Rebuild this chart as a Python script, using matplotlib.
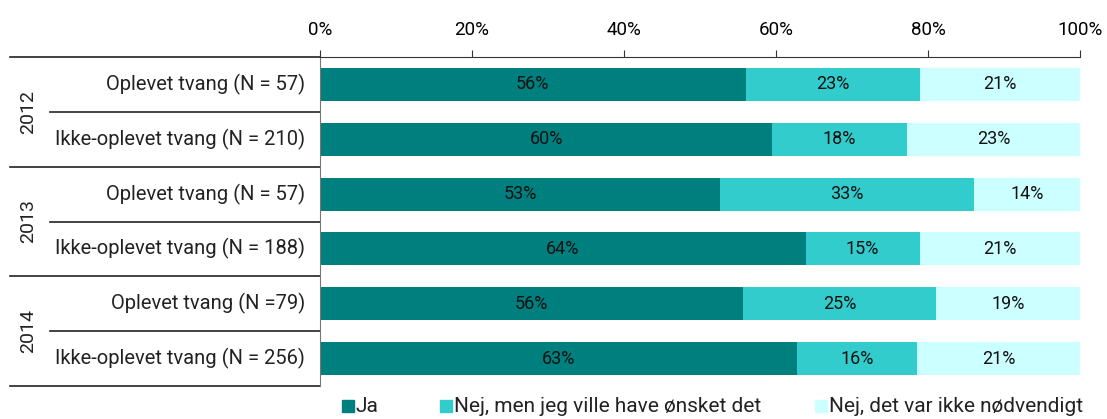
import matplotlib
matplotlib.use("Agg")
import matplotlib.pyplot as plt
from matplotlib.patches import Rectangle
from matplotlib.lines import Line2D

plt.rcParams['font.family'] = ['Roboto', 'DejaVu Sans']

# data (top to bottom)
years = ['2012', '2013', '2014']
rows = ['Oplevet tvang (N = 57)', 'Ikke-oplevet tvang (N = 210)',
        'Oplevet tvang (N = 57)', 'Ikke-oplevet tvang (N = 188)',
        'Oplevet tvang (N =79)', 'Ikke-oplevet tvang (N = 256)']
series = ['Ja', 'Nej, men jeg ville have ønsket det', 'Nej, det var ikke nødvendigt']
ja = [56.0, 59.5, 52.6, 63.9, 55.7, 62.8]
nej_oensket = [23.0, 17.7, 33.4, 15.0, 25.3, 15.8]
nej_ikke = [21.0, 22.8, 14.0, 21.1, 19.0, 21.4]
colors = ['#007F7F', '#33CCCC', '#CCFFFF']

W, H = 1107, 419
fig = plt.figure(figsize=(W / 100, H / 100), dpi=100)
ax = fig.add_axes([320 / W, 1 - 386 / H, 760 / W, 329 / H])

n = len(rows)
ypos = list(range(n))
left = [0.0] * n
for vals, col in zip([ja, nej_oensket, nej_ikke], colors):
    ax.barh(ypos, vals, left=left, height=0.6, color=col, edgecolor='none')
    for y, l, v in zip(ypos, left, vals):
        ax.text(l + v / 2, y, f'{v:.0f}%', ha='center', va='center',
                fontsize=13, color='#111111')
    left = [a + b for a, b in zip(left, vals)]

ax.set_xlim(0, 100)
ax.set_ylim(n - 0.5, -0.5)
ax.xaxis.tick_top()
ax.set_xticks(range(0, 101, 20))
ax.set_xticklabels([f'{t}%' for t in range(0, 101, 20)], fontsize=13.5)
ax.tick_params(axis='x', length=5, color='#333333', pad=8)
ax.set_yticks([])
for s in ['right', 'bottom']:
    ax.spines[s].set_visible(False)
ax.spines['top'].set_color('#333333')
ax.spines['left'].set_color('#777777')

# row labels and separators on the left
for y, lab in zip(ypos, rows):
    ax.text(-0.02, y, lab, transform=ax.get_yaxis_transform(),
            ha='right', va='center', fontsize=14.5, color='#222222')

x_outer = (10 - 320) / 760
x_inner = (50 - 320) / 760
for k in range(n + 1):
    xs = x_outer if k % 2 == 0 else x_inner
    ax.add_line(Line2D([xs, 0], [k - 0.5, k - 0.5], transform=ax.get_yaxis_transform(),
                       color='#222222', lw=1.2, clip_on=False))
for g, yr in enumerate(years):
    ax.text((28 - 320) / 760, 2 * g + 0.5, yr, transform=ax.get_yaxis_transform(),
            rotation=90, ha='center', va='center', fontsize=14, color='#222222')

# legend along the bottom edge
leg_x = [342, 440, 815]
for x, lab, col in zip(leg_x, series, colors):
    fig.patches.append(Rectangle((x / W, 1 - 412 / H), 12 / W, 12 / H,
                                 transform=fig.transFigure, color=col))
    fig.text((x + 14) / W, 1 - 406 / H, lab, ha='left', va='center',
             fontsize=15, color='#222222')

fig.savefig('out.png', dpi=100)
